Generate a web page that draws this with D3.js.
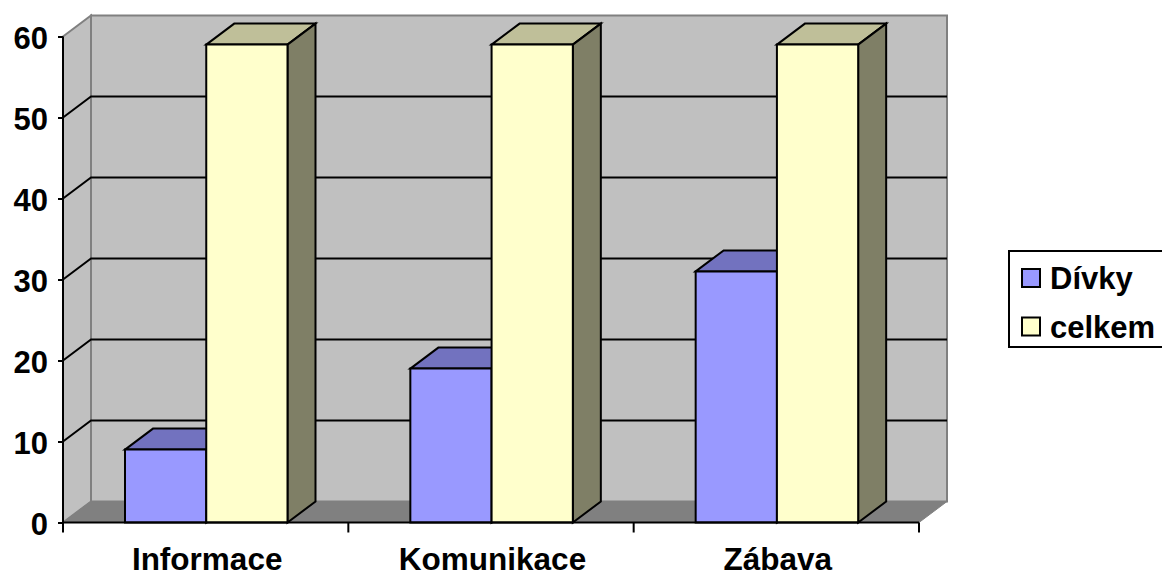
<!DOCTYPE html>
<html><head><meta charset="utf-8">
<script src="https://cdn.jsdelivr.net/npm/d3@7"></script>
<style>html,body{margin:0;padding:0;background:#fff}svg{display:block}text{font-family:"Liberation Sans",Arial,sans-serif;font-weight:bold;fill:#000}</style>
</head><body><svg id="c" width="1162" height="576"></svg>
<script>
const categories = ["Informace","Komunikace","Zábava"];
const seriesNames = ["Dívky","celkem"];
const divky = [9,19,31];
const celkem = [59,59,59];
const yTicks = [0,10,20,30,40,50,60];
const colors = {Dívky:["#9999ff","#7272bf","#4c4c7f"],celkem:["#ffffcc","#bfbf99","#7f7f66"]};

const svg = d3.select("#c");
const dx = 28, dy = -21;
const y = d3.scaleLinear().domain([0,60]).range([522.5,36.5]);
const x = d3.scaleBand().domain(categories).range([63,919]);
const s = d3.scaleBand().domain(seriesNames).range([62,62+162.5]);
const poly = (pts,fill,stroke,w)=>svg.append("polygon").attr("points",pts.map(p=>p.join(",")).join(" ")).attr("fill",fill).attr("stroke",stroke).attr("stroke-width",w).attr("stroke-linejoin","miter");
const L=x.range()[0],R=x.range()[1],Y0=y(0),Y1=y(60);
// walls
poly([[L+dx,Y1+dy],[R+dx,Y1+dy],[R+dx,Y0+dy],[L+dx,Y0+dy]],"#c0c0c0","#808080",2);
poly([[L,Y1],[L+dx,Y1+dy],[L+dx,Y0+dy],[L,Y0]],"#c0c0c0","#808080",2);
poly([[L,Y0],[L+dx,Y0+dy],[R+dx,Y0+dy],[R,Y0]],"#808080","#808080",1);
// gridlines
yTicks.filter(t=>t>0&&t<60).forEach(t=>{
  svg.append("polyline").attr("points",`${L},${y(t)} ${L+dx},${y(t)+dy} ${R+dx},${y(t)+dy}`).attr("fill","none").attr("stroke","#000").attr("stroke-width",2);
});
// bars
categories.forEach((c,i)=>{
  [["Dívky",divky[i]],["celkem",celkem[i]]].forEach(([n,v])=>{
    const x0=x(c)+s(n), x1=x0+s.bandwidth(), t=y(v), b=y(0), col=colors[n];
    poly([[x0,t],[x0+dx,t+dy],[x1+dx,t+dy],[x1,t]],col[1],"#000",2);
    poly([[x1,t],[x1+dx,t+dy],[x1+dx,b+dy],[x1,b]],col[2],"#000",2);
    poly([[x0,t],[x1,t],[x1,b],[x0,b]],col[0],"#000",2);
  });
});
// axes
const ax = svg.append("g").attr("transform",`translate(${L},0)`).call(d3.axisLeft(y).tickValues(yTicks).tickSize(5).tickFormat(d3.format("d")).tickPadding(10));
ax.selectAll("path,line").attr("stroke","#000").attr("stroke-width",2);
ax.select(".domain").attr("d",`M0,${Y1}V${Y0}`);
ax.selectAll("text").style("font-size","31px").attr("dy","0.39em").style("font-family",null);
const xt = x.domain().map(c=>x(c)).concat(R);
const bx = svg.append("g").attr("transform",`translate(0,${Y0})`);
bx.append("line").attr("x1",L).attr("x2",R).attr("stroke","#000").attr("stroke-width",2);
bx.selectAll("line.t").data(xt).join("line").attr("class","t").attr("x1",d=>d).attr("x2",d=>d).attr("y2",10).attr("stroke","#000").attr("stroke-width",2);
bx.selectAll("text").data(categories).join("text").attr("x",c=>x(c)+x.bandwidth()/2+1.5).attr("y",47).attr("text-anchor","middle").style("font-size","31.5px").text(d=>d);
// legend
svg.append("rect").attr("x",1009).attr("y",251).attr("width",160).attr("height",96).attr("fill","#fff").attr("stroke","#000").attr("stroke-width",2);
seriesNames.forEach((n,i)=>{
  const cy=278+i*48.5;
  svg.append("rect").attr("x",1022).attr("y",cy-9).attr("width",18).attr("height",18).attr("fill",colors[n][0]).attr("stroke","#000").attr("stroke-width",2);
  svg.append("text").attr("x",1050).attr("y",cy+11).style("font-size","31px").text(n);
});
</script></body></html>
